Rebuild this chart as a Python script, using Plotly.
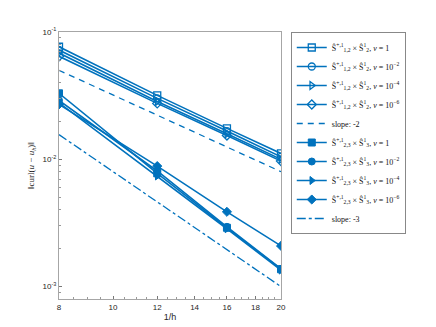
import plotly.graph_objects as go

x_vals = [8, 12, 16, 20]

# Series S_{1,2} family (open markers)
s12_nu1 = [0.0766, 0.0318, 0.0175, 0.01112]
s12_nu2 = [0.0722, 0.0301, 0.01667, 0.01047]
s12_nu4 = [0.0684, 0.0285, 0.0159, 0.0100]
s12_nu6 = [0.0645, 0.0275, 0.0154, 0.0097]
slope2 = [0.05, 0.02222, 0.0125, 0.008]

# Series S_{2,3} family (filled markers)
s23_nu1 = [0.0330, 0.00776, 0.00290, 0.00137]
s23_nu2 = [0.0290, 0.00810, 0.00295, 0.00138]
s23_nu4 = [0.0278, 0.00740, 0.00285, 0.00135]
s23_nu6 = [0.0270, 0.00885, 0.00387, 0.00209]
slope3 = [0.015625, 0.00463, 0.00195, 0.001]

lab_a = "Ŝ<sup>+,1</sup><sub>1,2</sub> × Ŝ<sup>1</sup><sub>2</sub>, <i>ν</i> = "
lab_b = "Ŝ<sup>+,1</sup><sub>2,3</sub> × Ŝ<sup>1</sup><sub>3</sub>, <i>ν</i> = "
nu_labels = ["1", "10<sup>−2</sup>", "10<sup>−4</sup>", "10<sup>−6</sup>"]

x_ticks = [8, 10, 12, 14, 16, 18, 20]
x_minor = [8.5, 9, 9.5, 10.5, 11, 11.5, 12.5, 13, 13.5, 14.5, 15, 15.5,
           16.5, 17, 17.5, 18.5, 19, 19.5]
y_ticks = [0.001, 0.01, 0.1]
y_ticktext = ["10<sup>-3</sup>", "10<sup>-2</sup>", "10<sup>-1</sup>"]

blue = "#0072BD"

fig = go.Figure()
open_syms = ["square-open", "circle-open", "triangle-right-open", "diamond-open"]
fill_syms = ["square", "circle", "triangle-right", "diamond"]

for ys, sym, nl in zip([s12_nu1, s12_nu2, s12_nu4, s12_nu6], open_syms, nu_labels):
    fig.add_trace(go.Scatter(x=x_vals, y=ys, mode="lines+markers", name=lab_a + nl,
                             line=dict(color=blue, width=1.6),
                             marker=dict(symbol=sym, size=7, color=blue,
                                         line=dict(color=blue, width=1.3))))
fig.add_trace(go.Scatter(x=x_vals, y=slope2, mode="lines", name="slope: -2",
                         line=dict(color=blue, width=1.3, dash="6px,5px")))
for ys, sym, nl in zip([s23_nu1, s23_nu2, s23_nu4, s23_nu6], fill_syms, nu_labels):
    fig.add_trace(go.Scatter(x=x_vals, y=ys, mode="lines+markers", name=lab_b + nl,
                             line=dict(color=blue, width=1.6),
                             marker=dict(symbol=sym, size=7, color=blue,
                                         line=dict(color=blue, width=1))))
fig.add_trace(go.Scatter(x=x_vals, y=slope3, mode="lines", name="slope: -3",
                         line=dict(color=blue, width=1.3, dash="dashdot")))

axis_common = dict(showgrid=False, zeroline=False, showline=True, mirror=True,
                   linecolor="#a6a6a6", linewidth=1, ticks="inside", ticklen=3,
                   tickcolor="#777777", automargin=False,
                   tickfont=dict(family="Liberation Sans, Arial", size=8, color="#262626"))

fig.update_xaxes(type="log", range=[0.90309, 1.30103], tickvals=x_ticks,
                 ticktext=[str(v) for v in x_ticks],
                 minor=dict(tickvals=x_minor, ticks="inside", ticklen=2, tickcolor="#999999"),
                 title=dict(text="1/h", font=dict(family="Liberation Sans, Arial", size=9,
                                                   color="#262626"), standoff=3),
                 **axis_common)
fig.update_yaxes(type="log", range=[-3.097, -1], tickvals=y_ticks, ticktext=y_ticktext,
                 minor=dict(ticks="inside", ticklen=2, tickcolor="#999999", dtick="D1"),
                 title=dict(text="‖curl(<i>u</i> − <i>u</i><sub><i>h</i></sub>)‖",
                            font=dict(family="Liberation Serif, Times New Roman", size=9,
                                      color="#262626"), standoff=6),
                 **axis_common)

fig.update_layout(
    width=436, height=327,
    margin=dict(l=51, r=163, t=24, b=36, autoexpand=False),
    plot_bgcolor="white", paper_bgcolor="white",
    legend=dict(x=1.044, y=1, xanchor="left", yanchor="top",
                bordercolor="#888888", borderwidth=1, bgcolor="white",
                font=dict(family="Liberation Serif, Times New Roman", size=8, color="#111111"),
                itemwidth=30, tracegroupgap=0),
    showlegend=True,
)

fig.write_html("out.html")
